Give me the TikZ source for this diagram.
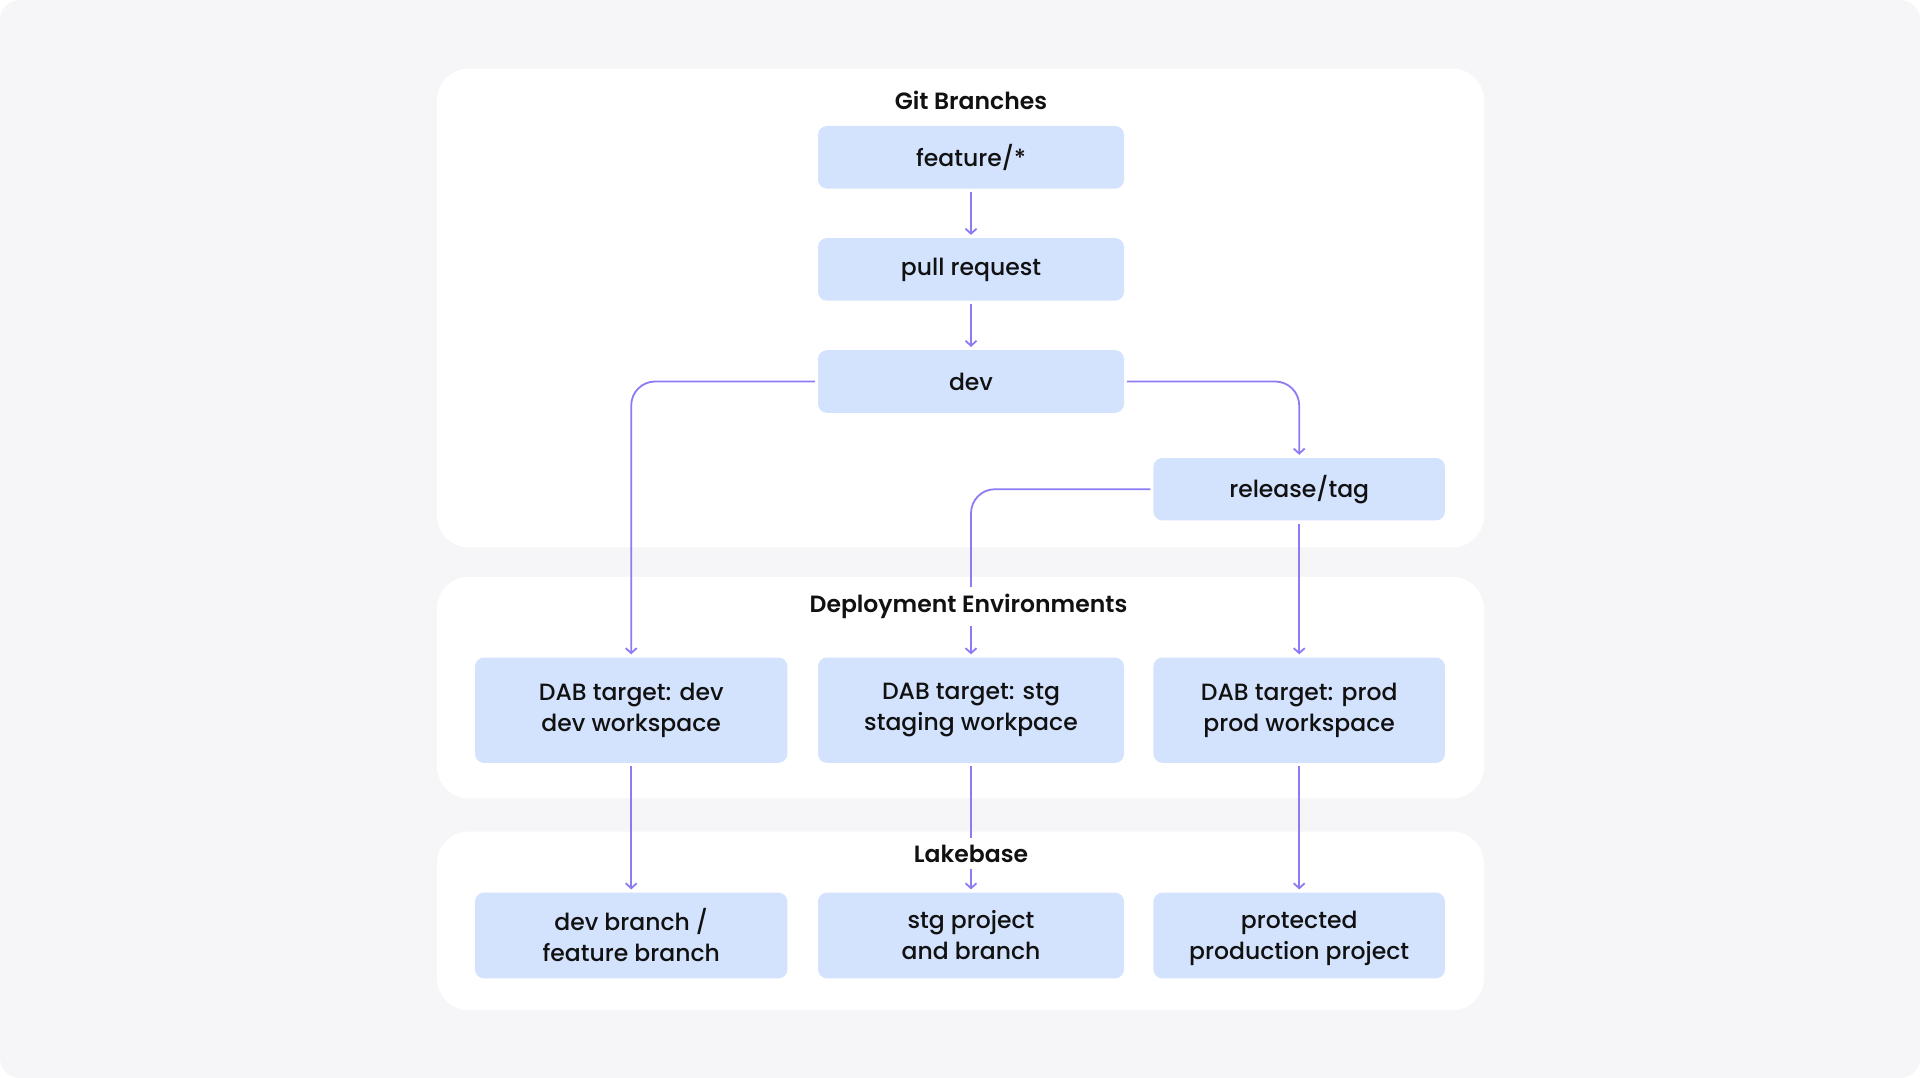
\documentclass[tikz,border=0pt]{standalone}
\usepackage{fontspec}
\setmainfont{Poppins}[UprightFont=*-Medium, BoldFont=*-SemiBold]
\usetikzlibrary{arrows.meta}
\definecolor{bggray}{HTML}{F6F6F8}
\definecolor{boxblue}{HTML}{D3E2FD}
\definecolor{arrowpurple}{HTML}{8B7CF6}
\definecolor{textdark}{HTML}{111111}
\tikzset{
  panel/.style={fill=white, draw=none, rounded corners=32pt},
  box/.style={fill=boxblue, draw=none, rounded corners=9pt, align=center, text=textdark,
    font=\fontsize{23.5}{31}\selectfont, inner sep=0pt},
  title/.style={font=\fontsize{23.5}{26}\selectfont\bfseries, text=textdark, fill=white, inner xsep=4pt, inner ysep=7pt},
  conn/.style={draw=arrowpurple, line width=1.8pt, rounded corners=24pt,
    -{Straight Barb[length=5pt,width=11pt,line width=1.8pt]}, shorten >=3pt, shorten <=3pt},
}
\begin{document}
\begin{tikzpicture}[x=1pt,y=-1pt]
\useasboundingbox (0,0) rectangle (1920,1078);
\fill[white] (0,0) rectangle (1920,1078);
\fill[bggray, rounded corners=20pt] (0,0) rectangle (1920,1078);
% panels
\fill[panel] (437,68.6) rectangle (1484,547.4);
\fill[panel] (437,576.8) rectangle (1484,798.4);
\fill[panel] (437,831.5) rectangle (1484,1010.2);
% boxes
\node[box, minimum width=306pt, minimum height=62.6pt] (feat) at (971,157.3) {feature/*};
\node[box, minimum width=306pt, minimum height=62.6pt] (pr) at (971,269.4) {pull request};
\node[box, minimum width=306pt, minimum height=62.6pt] (dev) at (971,381.5) {dev};
\node[box, minimum width=291.5pt, minimum height=62.4pt] (rel) at (1299.2,489.2) {release/tag};
\node[box, minimum width=312.4pt, minimum height=105.3pt] (dabdev) at (631.2,710.2) {DAB target: dev\\dev workspace};
\node[box, minimum width=306pt, minimum height=105.3pt] (dabstg) at (971,710.2) {DAB target: stg\\staging workpace};
\node[box, minimum width=291.5pt, minimum height=105.3pt] (dabprod) at (1299.2,710.2) {DAB target: prod\\prod workspace};
\node[box, minimum width=312.4pt, minimum height=85.7pt] (ldev) at (631.2,935.5) {dev branch /\\feature branch};
\node[box, minimum width=306pt, minimum height=85.7pt] (lstg) at (971,935.5) {stg project\\and branch};
\node[box, minimum width=291.5pt, minimum height=85.7pt, text depth=0pt] (lprod) at (1299.2,935.5) {protected\\production project\strut};
% connectors
\draw[conn] (feat.south) -- (pr.north);
\draw[conn] (pr.south) -- (dev.north);
\draw[conn] (dev.west) -| (dabdev.north);
\draw[conn] (dev.east) -| (rel.north);
\draw[conn] (rel.west) -| (dabstg.north);
\draw[conn] (rel.south) -- (dabprod.north);
\draw[conn] (dabdev.south) -- (ldev.north);
\draw[conn] (dabstg.south) -- (lstg.north);
\draw[conn] (dabprod.south) -- (lprod.north);
% titles
\node[title] (t1) at (971,100.4) {Git Branches};
\node[title] (t2) at (968.5,606.5) {Deployment Environments};
\node[title] (t3) at (971,853.5) {Lakebase};
\end{tikzpicture}
\end{document}
